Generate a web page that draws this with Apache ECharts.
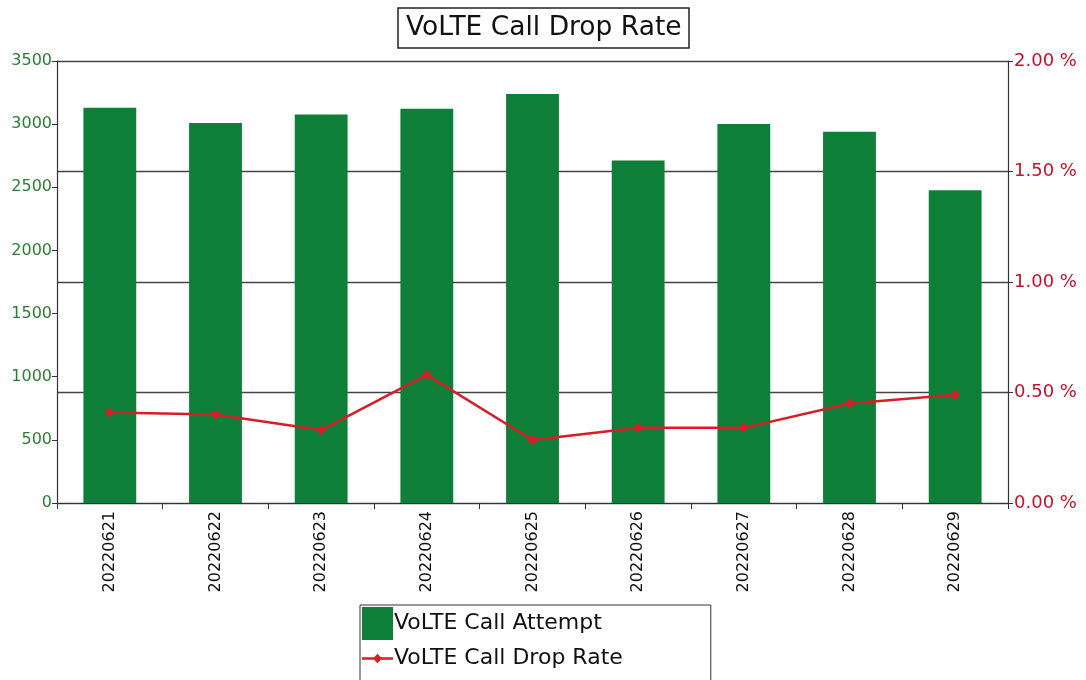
<!DOCTYPE html>
<html>
<head>
<meta charset="utf-8">
<script src="https://cdn.jsdelivr.net/npm/echarts@6/dist/echarts.min.js"></script>
<style>
  html, body { margin: 0; padding: 0; background: #ffffff; }
  #chart { width: 1086px; height: 680px; }
</style>
</head>
<body>
<div id="chart"></div>
<script>
// Daily VoLTE statistics
const dates = ['20220621', '20220622', '20220623', '20220624', '20220625', '20220626', '20220627', '20220628', '20220629'];
const callAttempts = [3130, 3010, 3077, 3122, 3238, 2713, 3001, 2940, 2476];
const dropRatePct = [0.41, 0.40, 0.33, 0.58, 0.285, 0.34, 0.34, 0.45, 0.49];
const attemptTicks = { min: 0, max: 3500, step: 500 };
const rateTicks = { min: 0, max: 2, step: 0.5 };

const FONT = 'DejaVu Sans';
const GREEN = '#0e7f38';
const RED = '#d71e26';

// Legend glyph for the rate line: a thin stroke with a diamond marker,
// padded with two invisible corner points so it keeps its proportions.
const lineIcon = 'path://M0,0 L0.001,0 L0,0.001 Z ' +
  'M31,32 L31,31.999 L30.999,32 Z ' +
  'M0,14.8 L31,14.8 L31,17.2 L0,17.2 Z ' +
  'M15.5,11.5 L20,16 L15.5,20.5 L11,16 Z';

const chart = echarts.init(document.getElementById('chart'), null, { renderer: 'canvas' });

chart.setOption({
  backgroundColor: '#ffffff',
  animation: false,
  title: {
    text: 'VoLTE Call Drop Rate',
    left: 398,
    top: 8,
    padding: [7, 8, 6, 8],
    borderColor: '#222222',
    borderWidth: 1.5,
    textStyle: { fontFamily: FONT, fontSize: 26.5, fontWeight: 'normal', color: '#111111' }
  },
  legend: {
    orient: 'vertical',
    left: 360,
    top: 605,
    height: 90,
    padding: [2, 88, 12, 2],
    itemGap: 2,
    itemWidth: 31,
    itemHeight: 33,
    symbolKeepAspect: false,
    borderColor: '#333333',
    borderWidth: 1,
    textStyle: { fontFamily: FONT, fontSize: 22, color: '#111111', padding: [3, 0, 0, -4] },
    data: [
      { name: 'VoLTE Call Attempt', icon: 'rect' },
      { name: 'VoLTE Call Drop Rate', icon: lineIcon }
    ]
  },
  grid: { left: 57, right: 78, top: 61, bottom: 177, containLabel: false },
  xAxis: {
    type: 'category',
    data: dates,
    axisLine: { lineStyle: { color: '#333333', width: 1.2 } },
    axisTick: { show: true, length: 6, interval: 0, lineStyle: { color: '#333333' } },
    axisLabel: { rotate: 90, interval: 0, margin: 8, fontFamily: FONT, fontSize: 16, color: '#111111' }
  },
  yAxis: [
    {
      type: 'value',
      min: attemptTicks.min,
      max: attemptTicks.max,
      interval: attemptTicks.step,
      position: 'left',
      axisLine: { show: true, lineStyle: { color: '#333333', width: 1.2 } },
      axisTick: { show: true, length: 5, lineStyle: { color: '#333333' } },
      splitLine: { show: false },
      axisLabel: { margin: 5, fontFamily: FONT, fontSize: 16, color: '#2b7d34', formatter: v => String(v) }
    },
    {
      type: 'value',
      min: rateTicks.min,
      max: rateTicks.max,
      interval: rateTicks.step,
      position: 'right',
      axisLine: { show: true, lineStyle: { color: '#333333', width: 1.2 } },
      axisTick: { show: true, length: 5, lineStyle: { color: '#333333' } },
      splitLine: { show: true, lineStyle: { color: '#444444', width: 1.3 } },
      axisLabel: {
        margin: 6,
        fontFamily: FONT,
        fontSize: 18,
        color: '#c8102e',
        formatter: v => v.toFixed(2) + ' %'
      }
    }
  ],
  series: [
    {
      name: 'VoLTE Call Attempt',
      type: 'bar',
      yAxisIndex: 0,
      data: callAttempts,
      barWidth: '50%',
      itemStyle: { color: GREEN }
    },
    {
      name: 'VoLTE Call Drop Rate',
      type: 'line',
      yAxisIndex: 1,
      data: dropRatePct,
      symbol: 'diamond',
      symbolSize: 10,
      lineStyle: { color: RED, width: 2.5 },
      itemStyle: { color: RED }
    }
  ]
});
</script>
</body>
</html>
